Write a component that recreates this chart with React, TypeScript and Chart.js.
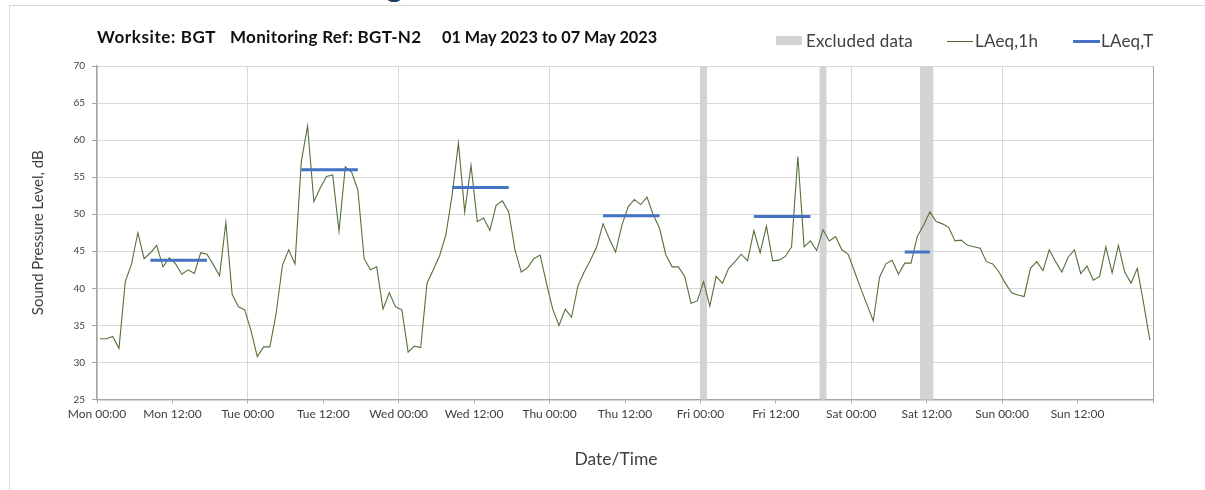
import React, { useEffect, useRef } from 'react';
import { Chart, registerables } from 'chart.js';

Chart.register(...registerables);

// ---- data ----
const DAYS = ['Mon', 'Tue', 'Wed', 'Thu', 'Fri', 'Sat', 'Sun'];
const TICK_TIMES = ['00:00', '12:00'];

// hourly LAeq,1h values, Mon 00:00 .. Sun 23:00
const LAEQ_1H = [
  33.2, 33.2, 33.5, 31.9, 40.9, 43.3, 47.5, 44.0, 44.8, 45.8, 42.9, 44.1, 43.3, 41.9, 42.5, 42.0, 44.8, 44.6, 43.2, 41.7, 48.9, 39.2, 37.5, 37.1,
  34.3, 30.8, 32.1, 32.1, 36.6, 43.1, 45.2, 43.3, 57.1, 61.9, 51.7, 53.5, 55.1, 55.3, 47.7, 56.4, 55.7, 53.3, 44.0, 42.5, 42.9, 37.2, 39.4, 37.5,
  37.1, 31.4, 32.2, 32.0, 40.7, 42.5, 44.4, 47.2, 52.6, 59.6, 50.3, 56.6, 49.0, 49.5, 47.8, 51.2, 51.8, 50.3, 45.2, 42.2, 42.8, 44.0, 44.5, 40.7,
  37.2, 35.0, 37.2, 36.1, 40.3, 42.2, 43.8, 45.6, 48.7, 46.7, 44.9, 48.5, 51.0, 52.0, 51.3, 52.3, 49.9, 48.1, 44.5, 42.9, 42.9, 41.6, 38.0, 38.3,
  40.9, 37.6, 41.6, 40.7, 42.7, 43.6, 44.6, 43.7, 47.8, 44.8, 48.4, 43.7, 43.8, 44.3, 45.6, 57.8, 45.6, 46.4, 45.1, 47.9, 46.4, 47.0, 45.2, 44.6,
  42.3, 40.0, 37.8, 35.6, 41.5, 43.3, 43.8, 41.9, 43.4, 43.4, 47.0, 48.5, 50.3, 49.0, 48.7, 48.2, 46.4, 46.5, 45.8, 45.6, 45.4, 43.6, 43.3, 42.2,
  40.7, 39.4, 39.1, 38.9, 42.7, 43.6, 42.4, 45.2, 43.6, 42.2, 44.2, 45.2, 42.0, 43.0, 41.1, 41.6, 45.6, 42.1, 45.8, 42.2, 40.7, 42.7, 38.0, 33.0,
];

// LAeq,T periods (hour index ranges) and values
const PERIOD_START = [8, 32, 56, 80, 104, 128];
const PERIOD_END = [17, 41, 65, 89, 113, 132];
const PERIOD_VALUE = [43.8, 56.0, 53.6, 49.8, 49.7, 44.9];

// excluded hours (hour index)
const EXCLUDED_HOURS = [96, 115, 131, 132];

const Y_MIN = 25;
const Y_MAX = 70;
const Y_STEP = 5;
const X_STEP = 12;
const HOURS = 168;

const FONT = 'Lato, "Open Sans", sans-serif';
const TEXT = '#404040';

function periodValueAt(i: number): number | null {
  for (let k = 0; k < PERIOD_START.length; k++) {
    if (i >= PERIOD_START[k] && i <= PERIOD_END[k]) return PERIOD_VALUE[k];
  }
  return null;
}

function tickLabel(v: number): string {
  if (v >= HOURS) return '';
  const d = Math.floor(v / 24);
  const t = Math.round((v % 24) / 12);
  return `${DAYS[d]} ${TICK_TIMES[t]}`;
}

export default function App() {
  const ref = useRef<HTMLCanvasElement | null>(null);

  useEffect(() => {
    if (!ref.current) return;
    const lineData = LAEQ_1H.map((v, i) => ({ x: i + 0.5, y: v }));
    const tData = LAEQ_1H.map((_, i) => ({ x: i + 0.5, y: periodValueAt(i) }));
    const exData = LAEQ_1H.map((_, i) => ({ x: i + 0.5, y: EXCLUDED_HOURS.includes(i) ? Y_MAX : null }));

    const chart = new Chart(ref.current, {
      type: 'line',
      data: {
        datasets: [
          {
            type: 'bar',
            label: 'Excluded data',
            data: exData as any,
            backgroundColor: '#D3D3D3',
            borderWidth: 0,
            barPercentage: 1,
            categoryPercentage: 1,
            order: 3,
          } as any,
          {
            type: 'line',
            label: 'LAeq,1h',
            data: lineData,
            borderColor: '#56703A',
            borderWidth: 1.1,
            pointRadius: 0,
            tension: 0,
            order: 2,
          },
          {
            type: 'line',
            label: 'LAeq,T',
            data: tData as any,
            borderColor: '#4472C4',
            borderWidth: 3,
            borderCapStyle: 'butt',
            pointRadius: 0,
            spanGaps: false,
            tension: 0,
            order: 1,
          },
        ],
      },
      options: {
        animation: false,
        responsive: false,
        devicePixelRatio: 1,
        layout: { padding: { left: 0, right: 52, top: 66, bottom: 0 } },
        plugins: {
          legend: { display: false },
          tooltip: { enabled: false },
          title: { display: false },
        },
        scales: {
          x: {
            type: 'linear',
            min: 0,
            max: HOURS,
            offset: false,
            afterFit: (s: any) => {
              s.height = 90.5;
            },
            ticks: {
              stepSize: X_STEP,
              autoSkip: false,
              maxRotation: 0,
              minRotation: 0,
              padding: 3,
              color: TEXT,
              font: { family: FONT, size: 12 },
              callback: (v: any) => tickLabel(Number(v)),
            },
            grid: {
              offset: false,
              color: (ctx: any) => {
                const v = ctx.tick ? ctx.tick.value : 0;
                if (v === HOURS) return '#A6A6A6';
                return v % 24 === 0 ? '#D9D9D9' : 'rgba(0,0,0,0)';
              },
              lineWidth: 1,
              tickColor: '#A6A6A6',
              tickLength: 4,
              drawTicks: true,
            },
            border: { display: true, color: '#A6A6A6', width: 1.5 },
            title: { display: false },
          },
          y: {
            type: 'linear',
            min: Y_MIN,
            max: Y_MAX,
            afterFit: (s: any) => {
              s.width = 97;
            },
            ticks: {
              stepSize: Y_STEP,
              padding: 7,
              color: TEXT,
              font: { family: FONT, size: 10 },
            },
            grid: {
              color: '#D9D9D9',
              lineWidth: 1,
              tickColor: '#A6A6A6',
              tickLength: 5,
            },
            border: { display: true, color: '#A6A6A6', width: 1.5 },
            title: {
              display: true,
              text: 'Sound Pressure Level, dB',
              color: TEXT,
              font: { family: FONT, size: 15 },
              padding: { top: 29, bottom: 0 },
            },
          },
        },
      },
    });
    return () => chart.destroy();
  }, []);

  const legendText: React.CSSProperties = {
    position: 'absolute',
    top: 31,
    fontFamily: FONT,
    fontSize: 17,
    letterSpacing: 0.2,
    color: TEXT,
    lineHeight: '20px',
    whiteSpace: 'pre',
  };
  const titleText: React.CSSProperties = {
    position: 'absolute',
    top: 27,
    fontFamily: FONT,
    fontWeight: 700,
    fontSize: 17,
    letterSpacing: 0.3,
    color: '#111',
    lineHeight: '20px',
    whiteSpace: 'pre',
  };

  return (
    <div style={{ position: 'absolute', left: 0, top: 0, width: 1205, height: 490, background: '#fff', overflow: 'hidden' }}>
      {/* frame */}
      <div style={{ position: 'absolute', left: 9, top: 5, width: 1196, height: 1, background: '#D9D9D9' }} />
      <div style={{ position: 'absolute', left: 9, top: 5, width: 1, height: 485, background: '#D9D9D9' }} />
      {/* cut-off heading glyph */}
      <div style={{ position: 'absolute', left: 384, top: 0, width: 26, height: 4, overflow: 'hidden' }}>
        <span style={{ position: 'absolute', left: 2, top: -31, fontFamily: FONT, fontWeight: 700, fontSize: 32, lineHeight: 1, color: '#1F3864' }}>g</span>
      </div>

      <canvas ref={ref} width={1205} height={490} style={{ position: 'absolute', left: 0, top: 0, width: 1205, height: 490 }} />

      {/* chart title */}
      <div style={{ ...titleText, left: 97, letterSpacing: 0.6 }}>Worksite: BGT</div>
      <div style={{ ...titleText, left: 230 }}>Monitoring Ref: BGT-N2</div>
      <div style={{ ...titleText, left: 442, fontSize: 16.3, letterSpacing: 0 }}>01 May 2023 to 07 May 2023</div>

      {/* legend */}
      <div style={{ position: 'absolute', left: 776, top: 36, width: 26, height: 9, background: '#D3D3D3' }} />
      <div style={{ ...legendText, left: 806 }}>Excluded data</div>
      <div style={{ position: 'absolute', left: 947, top: 41, width: 26, height: 1, background: '#4F6228' }} />
      <div style={{ ...legendText, left: 975 }}>LAeq,1h</div>
      <div style={{ position: 'absolute', left: 1073, top: 40, width: 27, height: 3, background: '#4472C4' }} />
      <div style={{ ...legendText, left: 1101 }}>LAeq,T</div>

      {/* x axis title */}
      <div style={{ position: 'absolute', left: 516, width: 200, top: 449, textAlign: 'center', fontFamily: FONT, fontSize: 17.5, color: TEXT, lineHeight: '20px' }}>Date/Time</div>
    </div>
  );
}
